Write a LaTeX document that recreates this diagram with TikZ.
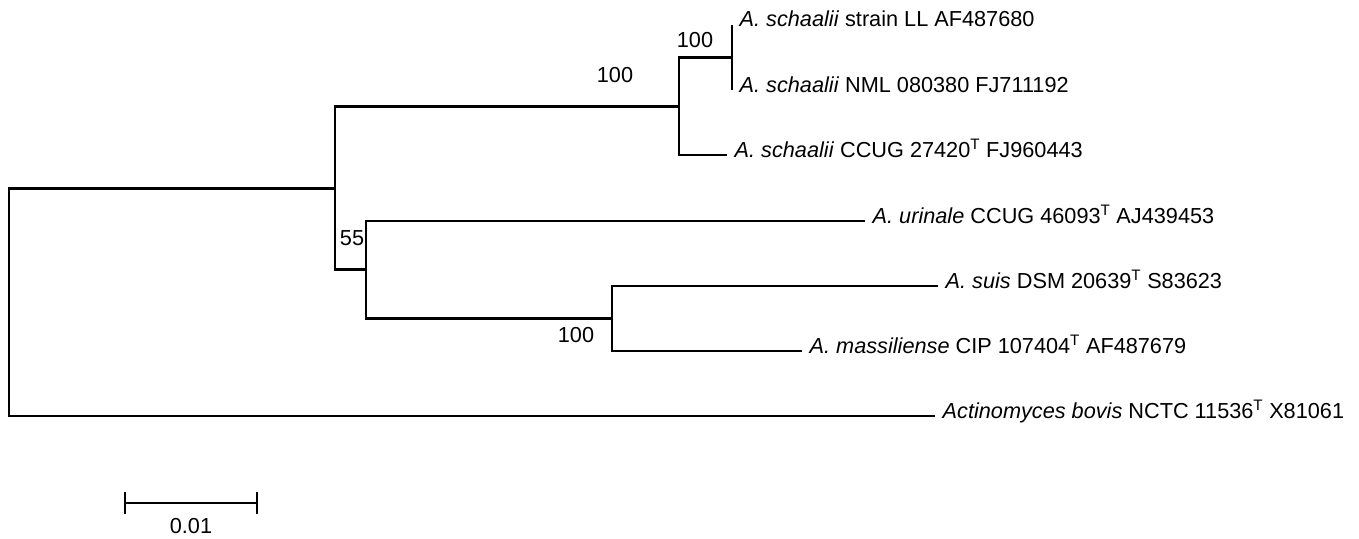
\documentclass[tikz,border=0pt]{standalone}
\usepackage{fontspec}
\setmainfont{Liberation Sans}
\begin{document}
\begin{tikzpicture}[x=1pt,y=-1pt,
  branch/.style={line width=2.4pt, line join=miter},
  taxon/.style={anchor=base west, inner sep=0pt, xshift=7.5pt, yshift=-2pt, font=\fontsize{21.7}{25}\selectfont},
  boot/.style={inner sep=0pt, font=\fontsize{21.7}{25}\selectfont}]
\useasboundingbox (0,0) rectangle (1359,538);
% internal nodes
\coordinate (root) at (9,302.5);
\coordinate (A) at (335,188.5);
\coordinate (D) at (679,106.5);
\coordinate (E) at (732,57.5);
\coordinate (B) at (366,269.5);
\coordinate (C) at (612,318.5);
% tips
\coordinate (t1) at (732,25);
\coordinate (t2) at (732,90);
\coordinate (t3) at (727,155);
\coordinate (t4) at (865,221);
\coordinate (t5) at (938,286);
\coordinate (t6) at (802,351);
\coordinate (t7) at (935,416);
% branches
\draw[branch] (root) |- (A);
\draw[branch] (root) |- (t7);
\draw[branch] (A) |- (D);
\draw[branch] (A) |- (B);
\draw[branch] (D) |- (E);
\draw[branch] (D) |- (t3);
\draw[branch] (E) |- (t1);
\draw[branch] (E) |- (t2);
\draw[branch] (B) |- (t4);
\draw[branch] (B) |- (C);
\draw[branch] (C) |- (t5);
\draw[branch] (C) |- (t6);
% taxon labels
\node[taxon] (l1) at (t1) {\textit{A. schaalii} strain LL AF487680};
\node[taxon] (l2) at (t2) {\textit{A. schaalii} NML 080380 FJ711192};
\node[taxon] (l3) at (t3) {\textit{A. schaalii} CCUG 27420\textsuperscript{T} FJ960443};
\node[taxon] (l4) at (t4) {\textit{A. urinale} CCUG 46093\textsuperscript{T} AJ439453};
\node[taxon] (l5) at (t5) {\textit{A. suis} DSM 20639\textsuperscript{T} S83623};
\node[taxon] (l6) at (t6) {\textit{A. massiliense} CIP 107404\textsuperscript{T} AF487679};
\node[taxon] (l7) at (t7) {\textit{Actinomyces bovis} NCTC 11536\textsuperscript{T} X81061};
% bootstrap values
\node[boot] (bD) at (695,40) {100};
\node[boot] (bA) at (615,75) {100};
\node[boot] (bB) at (352,238) {55};
\node[boot] (bC) at (576,335) {100};
% scale bar
\coordinate (sbL) at (125,503);
\coordinate (sbR) at (257,503);
\draw[branch] (sbL) -- (sbR);
\draw[branch] ([yshift=11pt]sbL) -- ([yshift=-11pt]sbL);
\draw[branch] ([yshift=11pt]sbR) -- ([yshift=-11pt]sbR);
\node[boot] (sbl) at (191,526) {0.01};
\end{tikzpicture}
\end{document}
